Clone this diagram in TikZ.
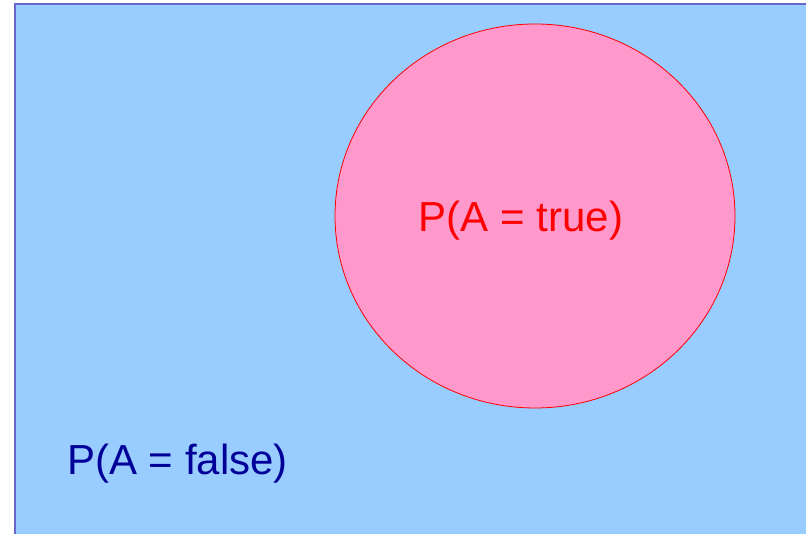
\documentclass[tikz,border=0pt]{standalone}
\usepackage{fontspec}
\setmainfont{Liberation Sans}
\definecolor{bgblue}{HTML}{99CCFF}
\definecolor{edgeblue}{HTML}{6666CC}
\definecolor{pinkfill}{HTML}{FF99CC}
\definecolor{darkblue}{HTML}{000099}
\begin{document}
\begin{tikzpicture}[x=1bp,y=1bp,
  lbl/.style={font=\fontsize{42bp}{48bp}\selectfont, inner sep=0pt, anchor=base}]
\useasboundingbox (0,0) rectangle (806,534);
\begin{scope}
\clip (0,0) rectangle (806,534);
\draw[edgeblue, line width=2bp, fill=bgblue] (15,529.5) rectangle (812,-6);
\draw[red, line width=0.8bp, fill=pinkfill] (535,318) ellipse [x radius=200, y radius=192];
\end{scope}
\node[lbl, text=red] (t) at (521,302) {P(A = true)};
\node[lbl, text=darkblue, anchor=base west] (f) at (67,59) {P(A = false)};
\end{tikzpicture}
\end{document}
